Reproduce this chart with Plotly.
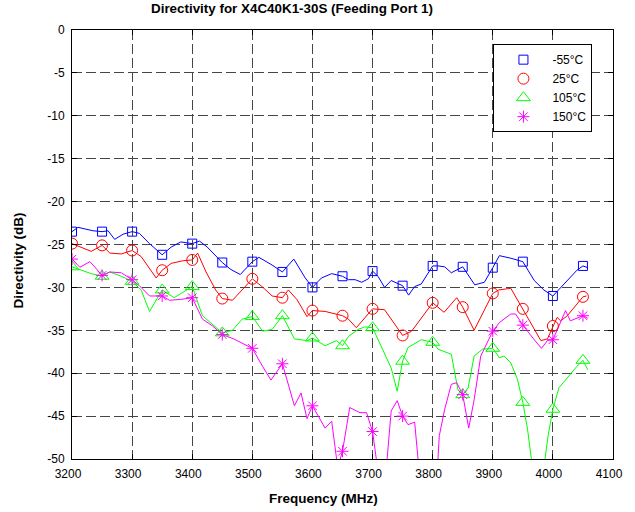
import plotly.graph_objects as go

# ---- data ----
freq_b = [3200, 3210, 3235, 3250, 3260, 3271, 3285, 3300, 3312, 3329, 3350, 3365, 3381, 3400, 3412, 3425,
          3450, 3464, 3480, 3500, 3511, 3533, 3550, 3569, 3588, 3600, 3615, 3632, 3650, 3660, 3671, 3682,
          3693, 3700, 3709, 3720, 3731, 3750, 3760, 3770, 3781, 3800, 3809, 3820, 3831, 3850, 3870, 3886,
          3900, 3911, 3930, 3950, 3969, 3985, 4000, 4018, 4040, 4050, 4058]
dir_b = [-23.5, -23.0, -23.4, -23.5, -23.4, -24.4, -23.8, -23.5, -23.7, -24.9, -26.2, -25.3, -24.7, -24.9, -24.6, -25.3,
         -27.1, -27.9, -28.5, -27.0, -26.5, -27.4, -28.2, -26.7, -28.9, -30.0, -28.9, -28.4, -28.7, -29.1, -29.1, -29.4,
         -29.0, -28.1, -28.7, -30.0, -29.2, -29.8, -30.9, -29.9, -29.6, -27.5, -27.5, -27.6, -28.3, -27.6, -29.7, -29.4,
         -27.7, -26.3, -26.6, -27.0, -29.2, -30.3, -31.0, -29.7, -28.0, -27.5, -27.7]

freq_r = [3200, 3232, 3250, 3263, 3282, 3300, 3315, 3340, 3350, 3365, 3384, 3400, 3409, 3423, 3439, 3450,
          3467, 3483, 3500, 3516, 3533, 3550, 3560, 3574, 3591, 3600, 3621, 3650, 3660, 3673, 3700, 3720,
          3750, 3765, 3800, 3819, 3840, 3850, 3869, 3900, 3910, 3930, 3950, 3980, 3991, 4000, 4007, 4013,
          4024, 4050, 4056]
dir_r = [-24.9, -25.8, -25.1, -26.0, -26.1, -25.7, -26.4, -28.9, -28.0, -27.2, -26.9, -26.8, -26.0, -28.2, -30.3, -31.3,
         -31.5, -30.3, -29.0, -29.9, -31.0, -31.2, -30.3, -31.4, -33.4, -32.7, -32.8, -33.3, -33.7, -34.7, -32.5, -32.6,
         -35.6, -35.1, -31.8, -32.9, -31.2, -32.3, -35.0, -30.7, -30.3, -30.1, -32.5, -36.2, -36.0, -34.5, -33.5, -33.9,
         -33.3, -31.1, -31.0]

freq_g = [3200, 3213, 3232, 3250, 3263, 3282, 3300, 3315, 3329, 3350, 3370, 3400, 3417, 3450, 3467, 3483,
          3500, 3517, 3533, 3550, 3570, 3591, 3600, 3621, 3640, 3650, 3660, 3676, 3687, 3700, 3709, 3731,
          3741, 3750, 3759, 3781, 3800, 3809, 3831, 3842, 3850, 3859, 3869, 3883, 3900, 3911, 3919, 3930,
          3941, 3950, 3958, 3965, 3978, 3986, 3992, 4000, 4010, 4024, 4040, 4050, 4058]
dir_g = [-27.6, -27.9, -28.4, -28.7, -28.2, -28.7, -29.3, -30.3, -32.8, -30.3, -31.2, -29.9, -33.3, -35.3, -35.0, -33.7,
         -33.4, -35.1, -34.9, -33.3, -36.0, -36.2, -35.9, -36.8, -36.2, -36.8, -35.7, -34.9, -34.6, -34.7, -36.1, -39.4,
         -42.1, -38.6, -37.0, -36.1, -36.4, -37.2, -37.8, -41.9, -42.5, -41.7, -38.0, -37.2, -37.1, -38.2, -38.0, -38.8,
         -40.7, -43.4, -46.6, -50.4, -54.0, -50.5, -47.3, -44.2, -41.7, -40.5, -39.2, -38.5, -39.6]

freq_m = [3200, 3213, 3230, 3250, 3263, 3282, 3300, 3312, 3329, 3350, 3362, 3381, 3400, 3417, 3434, 3450,
          3469, 3500, 3517, 3531, 3550, 3570, 3581, 3591, 3600, 3621, 3632, 3642, 3650, 3662, 3679, 3690,
          3700, 3708, 3716, 3723, 3731, 3741, 3750, 3759, 3770, 3777, 3790, 3808, 3811, 3820, 3831, 3840,
          3850, 3860, 3869, 3880, 3900, 3911, 3930, 3938, 3950, 3969, 3981, 3991, 4000, 4010, 4021, 4029,
          4050, 4058]
dir_m = [-26.7, -27.65, -27.0, -28.6, -28.2, -28.3, -29.1, -29.8, -31.0, -31.0, -31.5, -31.4, -31.2, -33.7, -34.5, -35.5,
         -36.0, -37.1, -39.2, -40.8, -38.9, -43.8, -42.3, -45.3, -43.8, -46.4, -45.6, -51.0, -49.1, -44.0, -44.6, -44.6,
         -46.8, -51.5, -55.0, -51.0, -44.4, -43.2, -45.0, -46.0, -45.7, -51.0, -56.0, -51.0, -47.3, -44.2, -41.3, -41.1,
         -42.5, -46.4, -43.1, -38.0, -35.1, -34.1, -33.1, -33.1, -34.4, -36.1, -37.1, -36.2, -36.1, -34.5, -32.7, -33.9,
         -33.3, -33.6]

marker_freq = [3200, 3250, 3300, 3350, 3400, 3450, 3500, 3550, 3600, 3650, 3700, 3750, 3800, 3850, 3900, 3950, 4000, 4050]
mk_b = [-23.5, -23.5, -23.5, -26.2, -24.9, -27.1, -27.0, -28.2, -30.0, -28.7, -28.1, -29.8, -27.5, -27.6, -27.7, -27.0, -31.0, -27.5]
mk_r = [-24.9, -25.1, -25.7, -28.0, -26.8, -31.3, -29.0, -31.2, -32.7, -33.3, -32.5, -35.6, -31.8, -32.3, -30.7, -32.5, -34.5, -31.1]
mk_g = [-27.6, -28.7, -29.3, -30.3, -29.9, -35.3, -33.4, -33.3, -35.9, -36.8, -34.7, -38.6, -36.4, -42.5, -37.1, -43.4, -44.2, -38.5]
mk_m = [-26.7, -28.6, -29.1, -31.0, -31.2, -35.5, -37.1, -38.9, -43.8, -49.1, -46.8, -45.0, -56.0, -42.5, -35.1, -34.4, -36.1, -33.3]

series_names = ["-55°C", "25°C", "105°C", "150°C"]
x_ticks = [3200, 3300, 3400, 3500, 3600, 3700, 3800, 3900, 4000, 4100]
y_ticks = [0, -5, -10, -15, -20, -25, -30, -35, -40, -45, -50]

FONT = "Liberation Sans, Arial, sans-serif"
colors = ["#0000FF", "#FF0000", "#00FF00", "#FF00FF"]
symbols = ["square-open", "circle-open", "triangle-up-open", "asterisk-open"]
sizes = [9, 11, 12, 10]

fig = go.Figure()
lines = [(freq_b, dir_b), (freq_r, dir_r), (freq_g, dir_g), (freq_m, dir_m)]
marks = [mk_b, mk_r, mk_g, mk_m]
for i in range(4):
    fx, fy = lines[i]
    fig.add_trace(go.Scatter(x=fx, y=fy, mode="lines", line=dict(color=colors[i], width=1),
                             showlegend=False, hoverinfo="skip"))
for i in range(4):
    fig.add_trace(go.Scatter(x=marker_freq, y=marks[i], mode="markers", name=series_names[i],
                             marker=dict(symbol=symbols[i], size=sizes[i], color=colors[i],
                                         line=dict(color=colors[i], width=1))))

axis_common = dict(showline=True, linecolor="black", linewidth=1, mirror="ticks",
                   ticks="inside", ticklen=5, tickcolor="black",
                   showgrid=True, gridcolor="#454545", gridwidth=1, griddash="10px,4px",
                   zeroline=False, tickfont=dict(family=FONT, size=12, color="black"))

fig.update_xaxes(range=[3200, 4100], tickvals=x_ticks, ticktext=[str(v) for v in x_ticks],
                 ticklabelstandoff=4, ticklabelshift=-4, **axis_common)
fig.update_yaxes(range=[-50, 0], tickvals=y_ticks, ticktext=[str(v) for v in y_ticks],
                 ticklabelstandoff=4, **axis_common)

fig.update_layout(
    width=635, height=512,
    margin=dict(l=72, r=19, t=30, b=53),
    plot_bgcolor="white", paper_bgcolor="white",
    font=dict(family=FONT, size=12, color="black"),
    legend=dict(x=0.779, y=0.967, xanchor="left", yanchor="top",
                bgcolor="white", bordercolor="black", borderwidth=1,
                font=dict(family=FONT, size=12, color="black"),
                itemwidth=48, tracegroupgap=0, entrywidth=68),
    annotations=[
        dict(text="<b>Directivity for X4C40K1-30S (Feeding Port 1)</b>", x=0.406, y=1.0, xref="paper", yref="paper",
             yanchor="bottom", yshift=12, showarrow=False, font=dict(family=FONT, size=13.4, color="black")),
        dict(text="<b>Frequency (MHz)</b>", x=0.465, y=0, xref="paper", yref="paper",
             yanchor="top", yshift=-30, showarrow=False, font=dict(family=FONT, size=13.5, color="black")),
        dict(text="<b>Directivity (dB)</b>", x=0, y=0.4615, xref="paper", yref="paper", textangle=-90,
             xanchor="right", xshift=-44, showarrow=False, font=dict(family=FONT, size=13.5, color="black")),
    ],
)

fig.write_html("out.html", config={"displayModeBar": False},
               post_script="document.body.style.margin='0px';")
